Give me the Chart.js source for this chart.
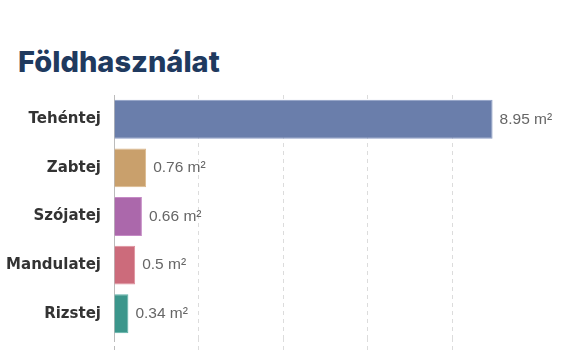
<!DOCTYPE html>
<html>
<head>
<meta charset="utf-8">
<script src="https://cdn.jsdelivr.net/npm/chart.js@4"></script>
<style>
  html, body { margin: 0; padding: 0; background: #fff; }
  #wrap { position: relative; width: 569px; height: 360px; }
  h1 { position: absolute; left: 18px; top: 44px; margin: 0; font-family: Inter, "Open Sans", sans-serif; font-weight: 800; font-size: 29px; color: #1f3a5f; letter-spacing: 0px; }
  canvas { position: absolute; left: 0; top: 0; }
</style>
</head>
<body>
<div id="wrap">
  <h1>Földhasználat</h1>
  <canvas id="c" width="569" height="360"></canvas>
</div>
<script>
const categories = ["Tehéntej", "Zabtej", "Szójatej", "Mandulatej", "Rizstej"];
const values = [8.95, 0.76, 0.66, 0.5, 0.34];
const unit = "m²";
const barColors = ["#6a7eab", "#c9a06c", "#ab68ab", "#cc6b7b", "#3b968b"];
const borderColors = ["#8c9dc4", "#dcb98c", "#c58ac5", "#df8f9c", "#5cb0a6"];

const valueLabels = {
  id: "valueLabels",
  afterDatasetsDraw(chart) {
    const ctx = chart.ctx;
    const meta = chart.getDatasetMeta(0);
    ctx.save();
    ctx.font = "15.5px 'Liberation Sans', Arial, sans-serif";
    ctx.fillStyle = "#666";
    ctx.textAlign = "left";
    ctx.textBaseline = "middle";
    meta.data.forEach((bar, i) => {
      ctx.fillText(values[i] + " " + unit, bar.x + 7, bar.y);
    });
    ctx.restore();
  }
};

new Chart(document.getElementById("c"), {
  type: "bar",
  data: {
    labels: categories,
    datasets: [{
      data: values,
      backgroundColor: barColors,
      borderColor: borderColors,
      borderWidth: 1,
      categoryPercentage: 1,
      barPercentage: 0.8
    }]
  },
  options: {
    indexAxis: "y",
    responsive: false,
    animation: false,
    layout: { padding: { top: 95, right: 32, bottom: 0, left: 0 } },
    plugins: { legend: { display: false }, tooltip: { enabled: false } },
    scales: {
      x: {
        min: 0,
        max: 10,
        ticks: { display: false, stepSize: 2 },
        border: { display: false, dash: [4, 4] },
        grid: {
          color: (c) => (c.tick && (c.tick.value === 0 || c.tick.value === 10)) ? "rgba(0,0,0,0)" : "#dcdcdc",
          tickColor: (c) => (c.tick && c.tick.value === 10) ? "rgba(0,0,0,0)" : (c.tick && c.tick.value === 0 ? "#bbb" : "#dcdcdc"),
          drawTicks: true,
          tickLength: 15,
          tickBorderDash: [4, 4]
        }
      },
      y: {
        afterFit: (s) => { s.width = 114; },
        grid: { display: false, drawTicks: false },
        border: { display: true, color: "#bbb", width: 1 },
        ticks: {
          padding: 13,
          color: "#333",
          font: { family: "'DejaVu Sans', sans-serif", weight: "bold", size: 15 }
        }
      }
    }
  },
  plugins: [valueLabels]
});
</script>
</body>
</html>
